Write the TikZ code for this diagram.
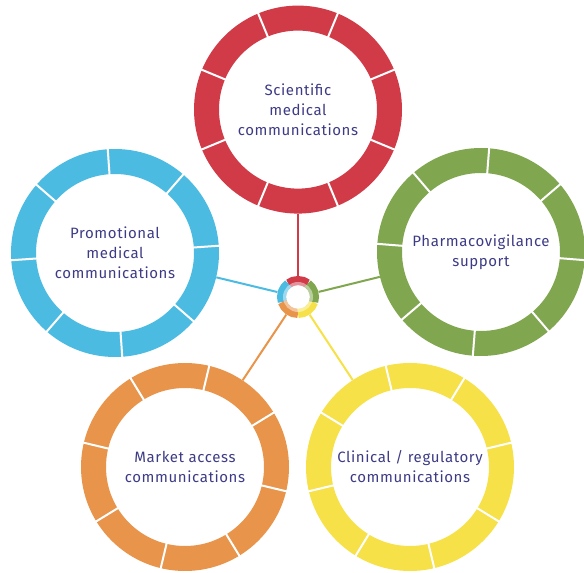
\documentclass[tikz,border=0pt]{standalone}
\usepackage{fontspec}
\setmainfont{Fira Sans}[LetterSpace=4]
\usetikzlibrary{positioning}
\definecolor{sciRed}{HTML}{D13B48}
\definecolor{promoBlue}{HTML}{4BBBE2}
\definecolor{pharmaGreen}{HTML}{80A74F}
\definecolor{marketOrange}{HTML}{E8944A}
\definecolor{clinYellow}{HTML}{F6E148}
\definecolor{labelText}{HTML}{3D3B85}

\begin{document}
\begin{tikzpicture}[x=1pt, y=1pt,
			ringnode/.style={circle, minimum size=208pt, inner sep=0pt, align=center, text=labelText, font=\fontsize{15}{20}\selectfont},
			hubnode/.style={circle, minimum size=42pt, inner sep=0pt},
			spoke/.style={line width=2pt},
			gap/.style={draw=white, line width=2pt},
			]
			\useasboundingbox (0,0) rectangle (584,573);
			%Nodes
			\node[hubnode] (hub) at (298,276) {};
			\node[ringnode] (sci) [above=62pt of hub] {Scientific\\medical\\communications};
			\node[ringnode] (promo) at (115,320) {Promotional\\medical\\communications};
			\node[ringnode] (pharma) at (481,321) {Pharmacovigilance\\support};
			\node[ringnode] (market) at (185,106) {Market access\\communications};
			\node[ringnode] (clin) at (410,106) {Clinical / regulatory\\communications};

			%Spokes
			\draw[spoke, sciRed] (hub) -- (sci);
			\draw[spoke, promoBlue] (hub) -- (promo);
			\draw[spoke, pharmaGreen] (hub) -- (pharma);
			\draw[spoke, marketOrange] (hub) -- (market);
			\draw[spoke, clinYellow] (hub) -- (clin);

			%Rings
			\foreach \ring/\col/\off in {sci/sciRed/22.5, promo/promoBlue/4, pharma/pharmaGreen/-4.5, market/marketOrange/-13.5, clin/clinYellow/13.5}{
				\fill[\col, even odd rule] (\ring.center) circle (104) circle (79);
				\foreach \k in {0,...,7}
					\draw[gap] (\ring.center) ++(\off+45*\k:78) -- ++(\off+45*\k:27);
			}

			%Hub
			\foreach \col/\a in {sciRed/54, promoBlue/126, marketOrange/198, clinYellow/270, pharmaGreen/342}
				\draw[\col, line width=9pt] (hub.center) ++(\a:16.5) arc[start angle=\a, end angle=\a+72, radius=16.5];
			\draw[white, opacity=0.45, line width=3pt] (hub.center) circle (13.5);
		\end{tikzpicture}
\end{document}
